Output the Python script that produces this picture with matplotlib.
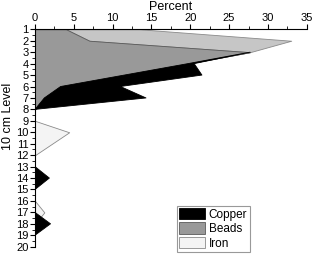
import numpy as np
import matplotlib
matplotlib.use("Agg")
import matplotlib.pyplot as plt
from matplotlib.ticker import MultipleLocator

plt.rcParams['font.family'] = ['Liberation Sans', 'DejaVu Sans']

# nivel de 10 cm (1 = topo)
niveis = np.arange(1, 21)

# percentuais (empilhados: contas, depois cobre / ferro)
contas = np.array([4, 7, 27.7, 19.7, 11.5, 3.3, 1.2, 0, 0, 0,
                   0, 0, 0, 0, 0, 0, 0, 0, 0, 0])
cobre = np.array([0, 0, 0, 0.8, 10, 7.7, 13.1, 0, 0, 0,
                  0, 0, 0, 1.85, 0, 0, 0, 2.0, 0, 0])
ferro = np.array([9.5, 26, 0, 0, 0, 0, 0, 0, 0, 4.4,
                  2.2, 0, 0, 0, 0, 0, 1.2, 0, 0, 0])

fig = plt.figure(figsize=(3.12, 2.54), dpi=100)
ax = fig.add_axes([0.1122, 0.0287, 0.871, 0.856])

topo = contas > 0
ax.fill_betweenx(niveis, contas, contas + ferro, where=topo,
                 facecolor='#c6c6c6', edgecolor='#8a8a8a', linewidth=0.6)
ax.fill_betweenx(niveis, contas, contas + ferro, where=~topo | (niveis == 7),
                 facecolor='#f4f4f4', edgecolor='#8a8a8a', linewidth=0.6,
                 label='Iron')
ax.fill_betweenx(niveis, 0, contas, facecolor='#999999',
                 edgecolor='#5a5a5a', linewidth=0.6, label='Beads')
tem_cobre = cobre > 0
ax.fill_betweenx(niveis, contas, contas + cobre,
                 where=tem_cobre | np.roll(tem_cobre, 1) | np.roll(tem_cobre, -1),
                 facecolor='black', edgecolor='black', linewidth=0.6,
                 label='Copper')

ax.set_xlim(0, 35)
ax.set_ylim(20, 1)
ax.xaxis.set_major_locator(MultipleLocator(5))
ax.xaxis.set_minor_locator(MultipleLocator(2.5))
ax.yaxis.set_major_locator(MultipleLocator(1))
ax.yaxis.set_minor_locator(MultipleLocator(0.5))
ax.xaxis.tick_top()
ax.xaxis.set_label_position('top')
ax.spines['right'].set_visible(False)
ax.spines['bottom'].set_visible(False)
for s in ['left', 'top']:
    ax.spines[s].set_linewidth(0.8)
ax.tick_params(axis='both', which='major', labelsize=8, length=3.5, width=0.8, pad=1)
ax.tick_params(axis='both', which='minor', length=2, width=0.6)
ax.set_xlabel('Percent', fontsize=9, labelpad=2)
ax.set_ylabel('10 cm Level', fontsize=9, labelpad=2)
ax.yaxis.set_label_coords(-0.078, 0.6)

h, l = ax.get_legend_handles_labels()
ordem = [l.index('Copper'), l.index('Beads'), l.index('Iron')]
leg = fig.legend([h[i] for i in ordem], [l[i] for i in ordem], loc='lower left',
                 bbox_to_anchor=(0.567, 0.008), fontsize=8.5, frameon=True,
                 fancybox=False, edgecolor='#808080', handlelength=2.2,
                 handleheight=1.1, labelspacing=0.15, borderpad=0.2,
                 handletextpad=0.3, borderaxespad=0)
leg.get_frame().set_linewidth(0.8)

fig.savefig('out.png', dpi=100)
